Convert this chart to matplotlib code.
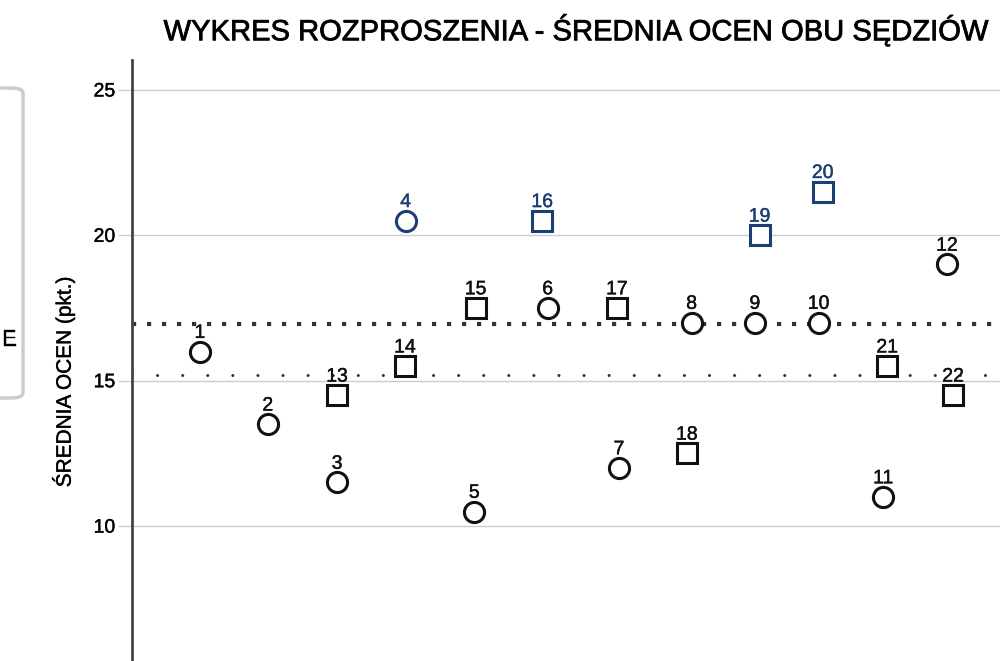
import numpy as np
import matplotlib.pyplot as plt
import matplotlib.patheffects as pe
from matplotlib.patches import FancyBboxPatch

plt.rcParams['font.family'] = ['Liberation Sans', 'DejaVu Sans']

# ==========================================
# DANE
# ==========================================
# sędzia 1 (kółka)
circle_ids = [1, 2, 3, 4, 5, 6, 7, 8, 9, 10, 11, 12]
circle_x = [1.0, 2.0, 3.02, 4.03, 5.04, 6.12, 7.17, 8.24, 9.17, 10.11, 11.06, 12.0]
circle_y = [16.0, 13.5, 11.5, 20.5, 10.5, 17.5, 12.0, 17.0, 17.0, 17.0, 11.0, 19.0]

# sędzia 2 (kwadraty)
square_ids = [13, 14, 15, 16, 17, 18, 19, 20, 21, 22]
square_x = [3.02, 4.02, 5.06, 6.04, 7.14, 8.17, 9.24, 10.17, 11.12, 12.09]
square_y = [14.5, 15.5, 17.5, 20.5, 17.5, 12.5, 20.0, 21.5, 15.5, 14.5]

highlight = [4, 16, 19, 20]
y_ticks = [10, 15, 20, 25]

BLUE = '#1b3f72'
BLACK = '#111111'
thick = [pe.withStroke(linewidth=0.3, foreground=BLACK)]

# ==========================================
# WYKRES
# ==========================================
fig = plt.figure(figsize=(10, 6.61), dpi=100)
ax = fig.add_axes([0.132, 0.0, 0.868, 1 - 60 / 661])
ax.set_xlim(0, 12.78)
ax.set_ylim(5.36, 26.03)

for sp in ['top', 'right', 'bottom']:
    ax.spines[sp].set_visible(False)
ax.spines['left'].set_color('#444444')
ax.spines['left'].set_linewidth(2)
ax.set_xticks([])
ax.set_yticks(y_ticks)
ax.tick_params(axis='y', length=10, width=1, color='#cccccc', labelsize=14, pad=2)
ax.yaxis.grid(True, color='#cccccc', lw=1)
ax.set_axisbelow(True)

# średnie
m_circ = np.mean(circle_y)
m_sq = np.mean(square_y)
ax.axhline(m_sq, color='#333333', lw=3, ls=(0, (1, 2.6)), dash_capstyle='butt', zorder=1)
ax.axhline(m_circ, color='#333333', lw=2.2, ls=(0, (0.01, 8.2)), dash_capstyle='round', zorder=1)


def draw(ids, xs, ys, marker):
    for i, x, y in zip(ids, xs, ys):
        c = BLUE if i in highlight else BLACK
        ax.plot(x, y, marker=marker, ms=14.5, mfc='white', mec=c, mew=2.2, zorder=3)
        ax.annotate(str(i), (x, y), xytext=(0, 7), textcoords='offset points',
                    ha='center', va='bottom', fontsize=14, color=c, zorder=4,
                    path_effects=[pe.withStroke(linewidth=0.3, foreground=c)])


draw(circle_ids, circle_x, circle_y, 'o')
draw(square_ids, square_x, square_y, 's')

ax.set_ylabel('ŚREDNIA OCEN (pkt.)', fontsize=15, path_effects=thick)
ax.yaxis.set_label_coords(-0.066, 0.465)
for t in ax.get_yticklabels():
    t.set_path_effects(thick)

fig.text(0.575, 0.93, 'WYKRES ROZPROSZENIA - ŚREDNIA OCEN OBU SĘDZIÓW',
         ha='center', va='bottom', fontsize=21, path_effects=[pe.withStroke(linewidth=0.6, foreground=BLACK)])

# fragment legendy po lewej
box = FancyBboxPatch((-0.05, 1 - 398 / 661), 0.073, (398 - 88) / 661,
                     boxstyle='round,pad=0,rounding_size=0.012',
                     transform=fig.transFigure, fc='white', ec='#cccccc', lw=2.5,
                     mutation_aspect=661 / 1000)
fig.patches.append(box)
fig.text(0.002, 1 - 340 / 661, 'E', ha='left', va='center', fontsize=16, path_effects=thick)

plt.savefig('out.png', dpi=100)
